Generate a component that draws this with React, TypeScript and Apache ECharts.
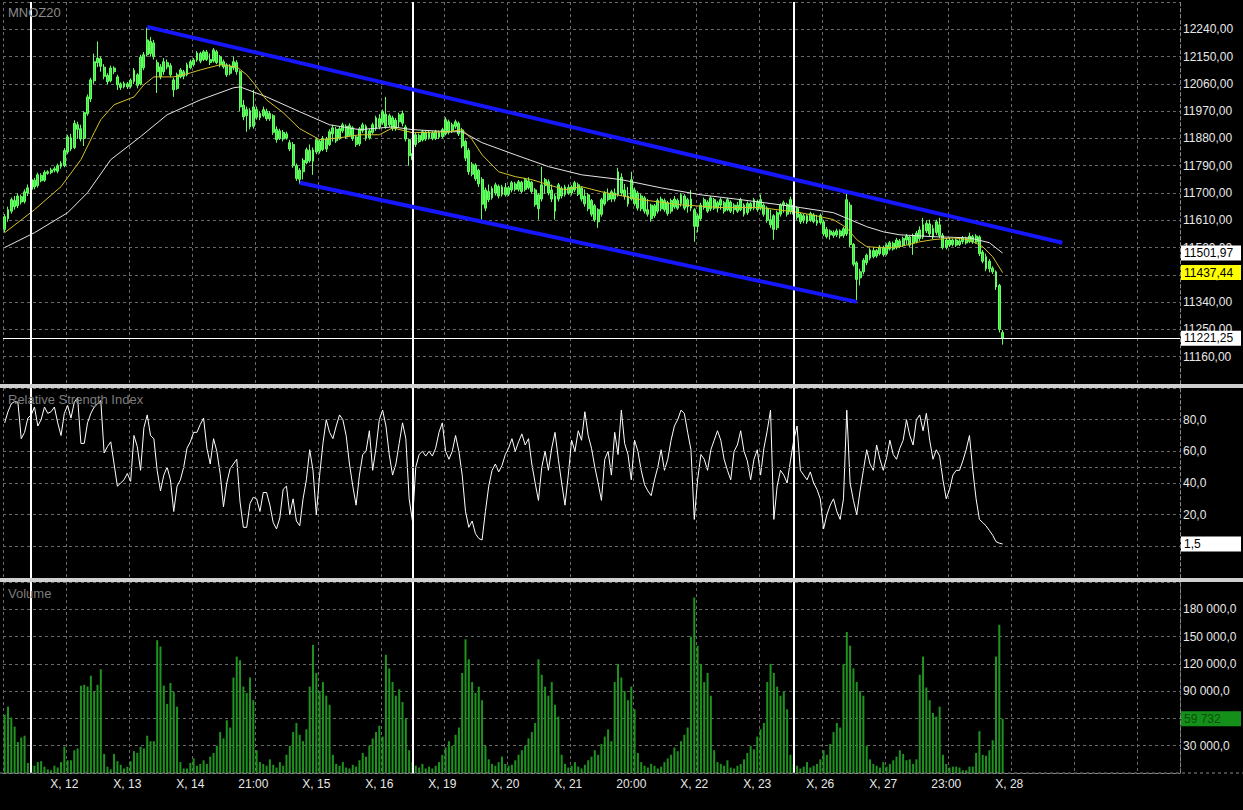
import { useEffect, useRef } from "react";
import * as echarts from "echarts";

const SYMBOL = "MNOZ20";
const RSI_TITLE = "Relative Strength Index";
const VOLUME_TITLE = "Volume";

const CATEGORY_COUNT = 355;
const TICK_FIRST = 18;
const TICK_STEP = 19;
const TICK_LABELS = ["X, 12", "X, 13", "X, 14", "21:00", "X, 15", "X, 16", "X, 19", "X, 20", "X, 21", "20:00", "X, 22", "X, 23", "X, 26", "X, 27", "23:00", "X, 28"];
const WEEK_SEPARATORS = [8, 123, 238];

const PRICE_MIN = 11070;
const PRICE_MAX = 12330;
const PRICE_STEP = 90;
const RSI_MIN = -20;
const RSI_MAX = 100;
const RSI_STEP = 20;
const RSI_LEVEL = 50;
const VOL_MIN = 0;
const VOL_MAX = 210000;
const VOL_STEP = 30000;

// [open, close, low, high]
const CANDLES: number[][] = [
[11580,11622,11570,11630],[11615,11645,11605,11655],[11640,11678,11632,11685],[11675,11655,11645,11690],[11658,11690,11650,11698],
[11688,11670,11662,11695],[11672,11704,11665,11712],[11700,11717,11690,11728],[11712,11744,11705,11750],[11742,11720,11712,11750],
[11725,11760,11718,11767],[11758,11740,11735,11765],[11742,11768,11737,11775],[11765,11770,11760,11775],[11768,11776,11762,11783],
[11775,11780,11768,11787],[11772,11790,11765,11797],[11788,11798,11780,11805],[11790,11840,11785,11848],[11835,11885,11828,11892],
[11882,11845,11838,11895],[11850,11930,11845,11940],[11925,11910,11880,11935],[11912,11878,11870,11925],[11880,11965,11855,11970],
[11962,12017,11955,12025],[12010,12073,12000,12080],[12070,12133,12060,12160],[12130,12145,12115,12200],[12143,12118,12100,12150],
[12115,12085,12075,12125],[12088,12067,12058,12095],[12070,12112,12065,12120],[12112,12100,12092,12118],[12083,12057,12040,12090],
[12060,12048,12040,12065],[12050,12062,12045,12068],[12060,12050,12043,12066],[12052,12072,12045,12078],[12068,12105,12060,12112],
[12090,12055,12045,12095],[12060,12148,12055,12156],[12113,12156,12105,12165],[12156,12205,12150,12245],[12200,12160,12150,12215],
[12150,12195,12140,12205],[12130,12100,12030,12140],[12083,12116,12075,12125],[12100,12133,12090,12145],[12130,12116,12108,12140],
[12120,12090,12082,12128],[12073,12040,12017,12080],[12045,12090,12040,12097],[12083,12106,12078,12112],[12100,12085,12075,12106],
[12090,12123,12085,12130],[12113,12133,12108,12140],[12123,12139,12117,12145],[12139,12162,12133,12168],[12160,12135,12128,12166],
[12140,12166,12135,12172],[12165,12140,12135,12172],[12140,12130,12122,12160],[12135,12172,12130,12178],[12166,12130,12125,12172],
[12149,12123,12115,12155],[12133,12116,12110,12140],[12123,12090,12083,12128],[12095,12118,12088,12125],[12113,12133,12105,12150],
[12130,12100,12090,12138],[12100,11984,11970,12105],[11990,11951,11940,12007],[11955,11975,11902,11985],[11972,11918,11910,11980],
[11920,11984,11912,12040],[11975,11950,11942,11985],[11948,11962,11940,11970],[11955,11975,11950,11985],[11970,11945,11938,11978],
[11945,11962,11938,11970],[11955,11900,11892,11960],[11910,11876,11866,11920],[11880,11905,11875,11912],[11900,11878,11870,11908],
[11882,11895,11876,11902],[11866,11845,11838,11875],[11860,11790,11783,11868],[11790,11748,11740,11797],[11745,11775,11730,11782],
[11770,11808,11745,11815],[11800,11843,11795,11850],[11840,11806,11800,11860],[11805,11842,11760,11850],[11835,11876,11828,11882],
[11870,11838,11830,11876],[11843,11880,11838,11888],[11878,11845,11835,11885],[11860,11902,11855,11910],[11895,11915,11870,11925],
[11910,11872,11865,11918],[11880,11912,11875,11920],[11905,11925,11898,11932],[11920,11885,11878,11926],[11890,11922,11885,11930],
[11915,11880,11872,11920],[11885,11860,11852,11890],[11862,11912,11855,11918],[11905,11925,11898,11932],[11920,11880,11872,11926],
[11882,11905,11876,11912],[11900,11925,11895,11932],[11912,11948,11905,11955],[11945,11918,11910,11960],[11932,11968,11925,11975],
[11960,11920,11912,12017],[11925,11955,11918,11962],[11948,11912,11905,11955],[11912,11940,11905,11948],[11935,11958,11915,11965],
[11962,11930,11920,11972],[11918,11878,11870,11925],[11876,11823,11790,11880],[11830,11810,11800,11845],[11860,11892,11852,11898],
[11890,11870,11865,11896],[11875,11902,11870,11908],[11900,11878,11872,11905],[11882,11900,11876,11906],[11898,11880,11874,11904],
[11880,11902,11875,11908],[11900,11884,11878,11906],[11886,11909,11880,11915],[11895,11942,11890,11950],[11935,11900,11893,11942],
[11905,11925,11898,11932],[11920,11935,11912,11942],[11930,11895,11888,11936],[11908,11855,11848,11915],[11870,11815,11805,11876],
[11840,11770,11760,11848],[11795,11762,11755,11802],[11792,11747,11740,11798],[11775,11730,11720,11780],[11745,11663,11612,11752],
[11650,11710,11640,11718],[11705,11678,11670,11728],[11684,11715,11678,11722],[11700,11727,11692,11734],[11722,11690,11682,11728],
[11695,11720,11688,11727],[11718,11694,11688,11733],[11696,11717,11690,11723],[11710,11734,11702,11740],[11730,11712,11705,11737],
[11712,11737,11705,11743],[11735,11705,11700,11740],[11712,11744,11705,11750],[11740,11718,11712,11752],[11735,11705,11698,11740],
[11710,11662,11655,11716],[11648,11694,11612,11700],[11680,11727,11672,11787],[11725,11744,11698,11750],[11737,11700,11692,11745],
[11710,11680,11670,11728],[11690,11640,11612,11698],[11680,11727,11672,11733],[11715,11690,11682,11722],[11695,11720,11688,11727],
[11718,11700,11694,11728],[11700,11720,11692,11726],[11710,11734,11703,11740],[11727,11696,11690,11734],[11717,11680,11672,11722],
[11690,11664,11655,11712],[11694,11648,11640,11700],[11675,11630,11622,11680],[11658,11612,11605,11664],[11605,11645,11585,11650],
[11630,11678,11622,11684],[11664,11700,11658,11706],[11698,11678,11672,11715],[11680,11704,11670,11710],[11700,11680,11672,11715],
[11694,11770,11688,11783],[11752,11700,11690,11765],[11710,11690,11678,11730],[11690,11664,11655,11720],[11680,11744,11675,11770],
[11710,11665,11658,11718],[11700,11650,11642,11706],[11648,11690,11640,11697],[11684,11640,11632,11690],[11645,11630,11622,11680],
[11660,11615,11605,11665],[11625,11658,11618,11664],[11640,11675,11632,11682],[11680,11648,11640,11688],[11645,11675,11638,11682],
[11668,11632,11625,11674],[11640,11675,11632,11682],[11680,11654,11648,11690],[11650,11675,11644,11682],[11665,11694,11655,11700],
[11690,11650,11643,11696],[11655,11678,11635,11684],[11680,11650,11640,11710],[11645,11590,11539,11650],[11590,11625,11570,11632],
[11615,11660,11608,11668],[11652,11678,11645,11685],[11670,11640,11634,11676],[11648,11684,11640,11690],[11678,11650,11644,11684],
[11650,11668,11636,11674],[11660,11678,11645,11684],[11668,11640,11632,11674],[11645,11678,11640,11684],[11670,11640,11634,11676],
[11645,11660,11630,11666],[11660,11640,11634,11670],[11645,11678,11640,11684],[11660,11630,11622,11666],[11635,11665,11628,11672],
[11665,11648,11640,11670],[11650,11678,11643,11684],[11672,11645,11638,11678],[11650,11678,11643,11695],[11660,11630,11622,11666],
[11650,11610,11602,11656],[11612,11595,11585,11645],[11625,11580,11546,11630],[11585,11635,11578,11642],[11630,11660,11622,11666],
[11660,11668,11635,11675],[11662,11630,11622,11668],[11638,11678,11630,11688],[11660,11630,11622,11666],[11650,11620,11612,11656],
[11630,11605,11598,11636],[11610,11625,11600,11632],[11625,11605,11598,11630],[11610,11632,11605,11638],[11628,11606,11600,11634],
[11610,11600,11592,11628],[11603,11626,11596,11632],[11605,11565,11558,11612],[11580,11556,11550,11588],[11562,11575,11546,11580],
[11570,11560,11552,11577],[11562,11575,11555,11582],[11575,11558,11550,11580],[11560,11582,11552,11588],[11565,11678,11558,11700],
[11660,11530,11522,11670],[11530,11465,11458,11535],[11470,11415,11345,11475],[11420,11440,11395,11450],[11440,11478,11432,11485],
[11470,11495,11462,11500],[11485,11512,11478,11518],[11510,11490,11484,11520],[11492,11510,11486,11515],[11500,11522,11494,11528],
[11520,11496,11490,11526],[11500,11528,11494,11534],[11515,11536,11510,11542],[11534,11515,11510,11540],[11520,11545,11514,11552],
[11542,11524,11518,11548],[11528,11550,11522,11556],[11545,11558,11530,11565],[11555,11528,11522,11560],[11535,11560,11496,11566],
[11540,11568,11534,11575],[11550,11578,11542,11590],[11555,11595,11548,11618],[11575,11600,11568,11610],[11598,11565,11558,11612],
[11583,11555,11548,11595],[11570,11605,11562,11612],[11595,11560,11552,11618],[11560,11520,11514,11568],[11520,11545,11514,11550],
[11545,11528,11522,11552],[11530,11545,11524,11550],[11545,11528,11522,11550],[11530,11542,11525,11548],[11540,11552,11532,11558],
[11550,11535,11530,11556],[11540,11558,11535,11569],[11556,11538,11532,11562],[11538,11558,11533,11564],[11555,11500,11492,11560],
[11505,11475,11468,11512],[11490,11450,11442,11500],[11450,11475,11438,11482],[11452,11440,11433,11458],[11440,11390,11380,11445],
[11395,11250,11240,11400],[11240,11221.25,11200,11248]
];

const VOLUMES = [
64000,73000,61000,51000,34000,39000,41000,11000,9000,8000,12000,13000,7000,4000,3000,8000,6000,12000,29000,14000,
14000,25000,27000,96000,97000,95000,107000,89000,97000,114000,21000,7000,4000,21000,13000,9000,5000,7000,13000,24000,
22000,29000,27000,41000,35000,35000,146000,139000,96000,76000,99000,89000,73000,12000,5000,5000,11000,16000,8000,
10000,14000,10000,18000,22000,30000,45000,38000,58000,50000,
105000,128000,124000,95000,88000,105000,80000,
25000,12000,10000,8000,15000,9000,6000,12000,8000,20000,30000,45000,55000,42000,35000,48000,
95000,141000,110000,90000,100000,85000,75000,
20000,10000,8000,12000,6000,5000,9000,7000,14000,22000,18000,30000,38000,45000,52000,40000,
130000,115000,100000,85000,92000,78000,60000,
25000,12000,8000,6000,10000,5000,7000,5000,8000,12000,20000,28000,35000,30000,42000,50000,
110000,147000,125000,100000,88000,95000,80000,
30000,15000,10000,8000,12000,18000,10000,8000,9000,14000,20000,25000,30000,38000,45000,55000,
125000,108000,95000,85000,100000,75000,62000,
20000,10000,6000,8000,12000,7000,5000,9000,14000,18000,25000,20000,32000,40000,48000,35000,
100000,120000,105000,90000,80000,95000,70000,
22000,12000,8000,6000,10000,8000,5000,7000,12000,16000,20000,28000,24000,35000,42000,50000,
150000,193000,140000,120000,100000,110000,85000,
25000,12000,10000,8000,14000,6000,5000,8000,10000,15000,22000,30000,26000,40000,48000,55000,
100000,120000,110000,95000,85000,90000,70000,
20000,10000,8000,5000,7000,12000,6000,8000,10000,15000,25000,20000,32000,45000,55000,50000,
120000,155000,140000,115000,100000,90000,85000,
30000,15000,10000,8000,6000,12000,7000,10000,14000,18000,25000,
21000,14000,15000,10000,15000,108000,128000,94000,80000,66000,62000,73000,20000,10000,6000,7000,7000,6000,3000,3000,
7000,7000,22000,46000,20000,19000,25000,36000,128000,163000,59732
];

const RSI = [
78,85,90,91.5,91,68,72,81,83,88, 76,80,88,84,85,88,78,70,84,89,
81,91,94,65,65,78,84,88,90,92, 59,63,66,52,38,40,42,46,41,70,
63,48,75,83,70,68,48,35,45,50, 42,22,38,42,50,62,66,72,72,77,
81,62,52,68,60,46,25,40,49,52, 55,28,12,12,27,31,30,22,34,34,
26,15,11,18,36,38,20,30,16,13, 30,42,61,48,20,45,65,80,72,68,
76,83,80,70,52,38,26,45,58,60, 73,48,62,80,86,76,58,45,52,65,
78,68,30,16,50,58,60,57,60,57, 62,72,78,60,55,60,70,60,45,22,
12,16,8,5,4,22,38,48,52,47, 51,58,62,68,60,66,71,64,68,52,
40,29,50,60,48,62,72,55,40,26, 45,67,60,73,67,85,70,62,50,40,
29,55,60,45,72,58,86,65,58,42, 67,60,48,39,35,32,42,50,61,48,
55,67,76,80,86,84,72,61,17,42, 58,55,48,61,67,73,67,55,48,42,
60,64,73,60,54,42,55,61,45,62, 73,86,17,38,48,45,40,54,67,76,
48,45,42,47,40,36,30,11,20,26, 30,22,17,30,86,40,29,20,35,48,
61,52,48,64,55,48,56,67,58,55, 62,67,80,70,64,80,83,73,84,67,
55,61,57,42,30,36,45,48,48,54, 61,70,48,30,17,15,13,10,7,3,
2,1.5
];

// [bar index, value]
const MA_FAST = [
[0,11569],[9,11645],[17,11721],[23,11810],[27,11899],[29,11942],[33,11991],[39,12017],[42,12057],[45,12083],
[51,12083],[56,12096],[59,12106],[65,12123],[70,12116],[73,12090],[75,12064],[79,12007],[84,11965],[89,11912],
[95,11876],[101,11882],[107,11892],[113,11892],[117,11915],[123,11899],[134,11902],[138,11909],[141,11876],[144,11826],
[149,11770],[154,11754],[159,11744],[164,11727],[169,11711],[174,11721],[180,11704],[192,11678],[204,11661],[216,11652],
[228,11652],[240,11635],[246,11622],[250,11612],[254,11585],[257,11546],[260,11523],[265,11519],[270,11523],[276,11539],
[280,11546],[286,11552],[291,11546],[295,11523],[298,11490],[301,11437.44]
];
const MA_SLOW = [
[0,11520],[9,11569],[19,11635],[25,11701],[32,11810],[41,11886],[49,11958],[59,12007],[69,12047],[71,12050],
[79,12017],[89,11968],[98,11925],[107,11909],[117,11918],[123,11909],[134,11902],[138,11902],[144,11866],[154,11826],
[164,11787],[174,11760],[186,11744],[198,11717],[210,11694],[222,11678],[234,11661],[240,11652],[250,11635],[255,11612],
[260,11589],[265,11572],[270,11562],[280,11556],[291,11552],[297,11536],[301,11501.97]
];
const CHANNEL_UPPER = [[43, 12248], [319, 11536]];
const CHANNEL_LOWER = [[89, 11734], [257, 11341]];

const fmtPrice = (v: number) => v.toFixed(2).replace(".", ",");
const fmtRsi = (v: number) => v.toFixed(1).replace(".", ",");
const groupThousands = (v: number) => Math.round(v).toString().replace(/\B(?=(\d{3})+(?!\d))/g, " ");
const fmtVol = (v: number) => groupThousands(v) + ",0";

const FONT = "Liberation Sans";
const AXIS_TEXT = "#e8e8e8";
const GRID_COLOR = "#6a6a6a";
const HIDDEN_LINE = { color: "rgba(0,0,0,0)", width: 1, type: "solid" };

export default function App() {
  const ref = useRef<HTMLDivElement>(null);
  useEffect(() => {
    document.body.style.margin = "0";
    document.body.style.background = "#000";
    const chart = echarts.init(ref.current!, null, { renderer: "svg" });

    const categories = Array.from({ length: CATEGORY_COUNT }, (_, i) => String(i));
    const labelAt: Record<number, string> = {};
    TICK_LABELS.forEach((t, k) => { labelAt[TICK_FIRST + k * TICK_STEP] = t; });

    const dashed = { color: GRID_COLOR, type: [3, 3] as any, width: 1 };

    const makeX = (gridIndex: number, showLabels: boolean) => ({
      type: "category",
      gridIndex,
      data: categories,
      boundaryGap: true,
      axisLine: { show: showLabels, lineStyle: { color: "#8a8a8a", type: [3, 3] } },
      axisTick: { show: false },
      axisLabel: {
        show: showLabels,
        interval: (i: number) => labelAt[i] !== undefined,
        formatter: (v: string) => labelAt[Number(v)] ?? "",
        color: AXIS_TEXT,
        fontSize: 12,
        fontFamily: FONT,
        margin: 5,
      },
      splitLine: { show: true, interval: (i: number) => i % TICK_STEP === 0, lineStyle: dashed },
    });

    const makeY = (gridIndex: number, min: number, max: number, interval: number, fmt: (v: number) => string, hide: number[]) => ({
      type: "value",
      gridIndex,
      position: "right",
      min,
      max,
      interval,
      axisLine: { show: true, lineStyle: { color: "#8a8a8a", type: [3, 3] } },
      axisTick: { show: false },
      axisLabel: {
        color: AXIS_TEXT,
        fontSize: 12,
        fontFamily: FONT,
        margin: 3,
        formatter: (v: number) => (hide.includes(v) ? "" : fmt(v)),
      },
      splitLine: { show: true, lineStyle: dashed },
    });

    const boxLabel = (bg: string, color: string, text: (v: number) => string) => ({
      show: true,
      position: "end",
      distance: 1,
      formatter: (p: any) => text(p.value),
      color,
      backgroundColor: bg,
      padding: [2, 3, 1, 3],
      width: 54,
      fontSize: 12,
      fontFamily: FONT,
    });

    const separators = (gridIndex: number) => ({
      type: "line",
      xAxisIndex: gridIndex,
      yAxisIndex: gridIndex,
      data: [],
      z: 1,
      silent: true,
      markLine: {
        symbol: "none",
        silent: true,
        label: { show: false },
        lineStyle: { color: "#ffffff", width: 2, type: "solid" },
        data: WEEK_SEPARATORS.map((x) => ({ xAxis: x })),
      },
    });

    const lastClose = CANDLES[CANDLES.length - 1][1];
    const lastFast = MA_FAST[MA_FAST.length - 1][1];
    const lastSlow = MA_SLOW[MA_SLOW.length - 1][1];
    const lastRsi = RSI[RSI.length - 1];
    const lastVol = VOLUMES[VOLUMES.length - 1];

    const option: any = {
      animation: false,
      backgroundColor: "#000000",
      textStyle: { fontFamily: FONT },
      grid: [
        { left: 3, top: 2, width: 1177, height: 382 },
        { left: 3, top: 388, width: 1177, height: 190 },
        { left: 3, top: 582, width: 1177, height: 191 },
      ],
      xAxis: [makeX(0, false), makeX(1, false), makeX(2, true)],
      yAxis: [
        makeY(0, PRICE_MIN, PRICE_MAX, PRICE_STEP, fmtPrice, [PRICE_MIN, PRICE_MAX]),
        makeY(1, RSI_MIN, RSI_MAX, RSI_STEP, fmtRsi, [RSI_MIN, 0, RSI_MAX]),
        makeY(2, VOL_MIN, VOL_MAX, VOL_STEP, fmtVol, [VOL_MIN, 60000, VOL_MAX]),
      ],
      series: [
        separators(0),
        separators(1),
        separators(2),
        {
          type: "candlestick",
          xAxisIndex: 0,
          yAxisIndex: 0,
          data: CANDLES,
          barWidth: 2.4,
          z: 3,
          itemStyle: {
            color: "#3be83b",
            color0: "#3be83b",
            borderColor: "#66ff66",
            borderColor0: "#66ff66",
            borderWidth: 1,
          },
          markLine: {
            symbol: "none",
            silent: true,
            data: [{ yAxis: lastClose }],
            lineStyle: { color: "#ffffff", width: 1, type: "solid" },
            label: boxLabel("#ffffff", "#000000", fmtPrice),
          },
        },
        {
          type: "line",
          xAxisIndex: 0,
          yAxisIndex: 0,
          data: MA_SLOW,
          symbol: "none",
          z: 4,
          lineStyle: { color: "#e4e4e4", width: 1 },
          markLine: {
            symbol: "none",
            silent: true,
            data: [{ yAxis: lastSlow }],
            lineStyle: HIDDEN_LINE,
            label: boxLabel("#ffffff", "#000000", fmtPrice),
          },
        },
        {
          type: "line",
          xAxisIndex: 0,
          yAxisIndex: 0,
          data: MA_FAST,
          symbol: "none",
          z: 4,
          lineStyle: { color: "#d6c22c", width: 1 },
          markLine: {
            symbol: "none",
            silent: true,
            data: [{ yAxis: lastFast }],
            lineStyle: HIDDEN_LINE,
            label: boxLabel("#ffff00", "#000000", fmtPrice),
          },
        },
        {
          type: "line",
          xAxisIndex: 0,
          yAxisIndex: 0,
          data: CHANNEL_UPPER,
          symbol: "none",
          z: 5,
          lineStyle: { color: "#1616ff", width: 4 },
        },
        {
          type: "line",
          xAxisIndex: 0,
          yAxisIndex: 0,
          data: CHANNEL_LOWER,
          symbol: "none",
          z: 5,
          lineStyle: { color: "#1616ff", width: 4 },
        },
        {
          type: "line",
          xAxisIndex: 1,
          yAxisIndex: 1,
          data: RSI,
          symbol: "none",
          z: 3,
          lineStyle: { color: "#ffffff", width: 1 },
          markLine: {
            symbol: "none",
            silent: true,
            data: [
              { yAxis: RSI_LEVEL, lineStyle: dashed, label: { show: false } },
              { yAxis: lastRsi, lineStyle: HIDDEN_LINE, label: boxLabel("#ffffff", "#000000", fmtRsi) },
            ],
          },
        },
        {
          type: "bar",
          xAxisIndex: 2,
          yAxisIndex: 2,
          data: VOLUMES,
          barWidth: 2,
          z: 3,
          itemStyle: { color: "#1f931f" },
          markLine: {
            symbol: "none",
            silent: true,
            data: [{ yAxis: lastVol }],
            lineStyle: HIDDEN_LINE,
            label: boxLabel("#14901a", "#0b4f0b", groupThousands),
          },
        },
      ],
      graphic: [
        { type: "text", x: 8, y: 6, z: 50, style: { text: SYMBOL, fill: "#8c8c8c", fontSize: 13, fontFamily: FONT } },
        { type: "text", x: 8, y: 393, z: 50, style: { text: RSI_TITLE, fill: "#7c7c7c", fontSize: 13, fontFamily: FONT } },
        { type: "text", x: 8, y: 587, z: 50, style: { text: VOLUME_TITLE, fill: "#7c7c7c", fontSize: 13, fontFamily: FONT } },
        { type: "rect", z: 60, shape: { x: 0, y: 384, width: 1243, height: 4 }, style: { fill: "#cfcfcf" } },
        { type: "rect", z: 60, shape: { x: 0, y: 578, width: 1243, height: 4 }, style: { fill: "#cfcfcf" } },
        { type: "line", z: 60, shape: { x1: 0, y1: 773, x2: 1243, y2: 773 }, style: { stroke: "#8a8a8a", lineWidth: 1, lineDash: [3, 3] } },
      ],
    };

    chart.setOption(option);
    return () => chart.dispose();
  }, []);

  return <div ref={ref} style={{ width: 1243, height: 810, background: "#000" }} />;
}
